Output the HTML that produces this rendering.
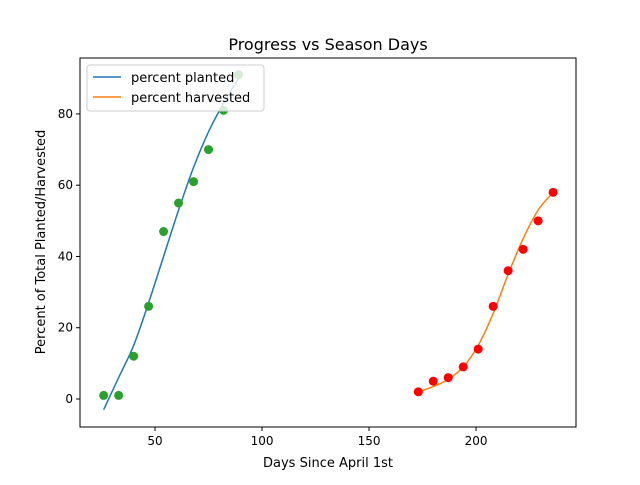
<!DOCTYPE html>
<html><head><meta charset="utf-8"><style>
body{margin:0;background:#fff;font-family:"Liberation Sans","DejaVu Sans",sans-serif}
svg text{font-family:"DejaVu Sans","Liberation Sans",sans-serif;fill:#000}
</style></head><body>
<svg id="chart" width="640" height="480" xmlns="http://www.w3.org/2000/svg">
<rect width="640" height="480" fill="#fff"/>
<g id="marks"></g>
<rect x="80" y="58" width="496" height="369" fill="none" stroke="#000" stroke-width="1"/>
<g id="axes"></g>
<text x="328" y="50" font-size="16" text-anchor="middle">Progress vs Season Days</text>
<text x="328" y="467" font-size="13" text-anchor="middle">Days Since April 1st</text>
<text transform="translate(45,242) rotate(-90)" font-size="13" text-anchor="middle">Percent of Total Planted/Harvested</text>
<g>
<rect x="87" y="65" width="177" height="46" rx="3" fill="#fff" fill-opacity="0.8" stroke="#ccc"/>
<line x1="93" y1="77" x2="121" y2="77" stroke="#1f77b4" stroke-width="1.5"/>
<text x="131" y="82" font-size="13">percent planted</text>
<line x1="93" y1="97" x2="121" y2="97" stroke="#ff7f0e" stroke-width="1.5"/>
<text x="131" y="102" font-size="13">percent harvested</text>
</g>
</svg>
<script>
const plantDays=[26,33,40,47,54,61,68,75,82,89];
const plantVals=[1,1,12,26,47,55,61,70,81,91];
const harvDays=[173,180,187,194,201,208,215,222,229,236];
const harvVals=[2,5,6,9,14,26,36,42,50,58];
const plantFitDays=[26,33,40,47,54,61,68,75,82,89];
const plantFitVals=[-3,6,15,27,40,53,65,75,83,90];
const harvFitDays=[173,180,187,194,201,208,215,222,229,236];
const harvFitVals=[2,3.5,5.5,9,15,24,35,45,53,58];
const xTicks=[50,100,150,200];
const yTicks=[0,20,40,60,80];
const NS="http://www.w3.org/2000/svg";
const X0=80,X1=576,Y0=58,Y1=427,xmin=14.95,xmax=246.7,ymin=-7.86,ymax=95.7;
function sx(v){return X0+(v-xmin)/(xmax-xmin)*(X1-X0);}
function sy(v){return Y1-(v-ymin)/(ymax-ymin)*(Y1-Y0);}
const marks=document.getElementById('marks'),axes=document.getElementById('axes');
function el(t,a,p){const e=document.createElementNS(NS,t);for(const k in a)e.setAttribute(k,a[k]);p.appendChild(e);return e;}
function smooth(xs,ys){const p=xs.map((x,i)=>[sx(x),sy(ys[i])]);let d='M'+p[0][0]+','+p[0][1];
for(let i=0;i<p.length-1;i++){const a=p[i-1]||p[i],b=p[i],c=p[i+1],e=p[i+2]||c;
d+=' C'+(b[0]+(c[0]-a[0])/6)+','+(b[1]+(c[1]-a[1])/6)+' '+(c[0]-(e[0]-b[0])/6)+','+(c[1]-(e[1]-b[1])/6)+' '+c[0]+','+c[1];}return d;}
let l=el('path',{d:smooth(plantFitDays,plantFitVals),fill:'none',stroke:'#1f77b4','stroke-width':1.5},marks);


l=el('path',{d:smooth(harvFitDays,harvFitVals),fill:'none',stroke:'#ff7f0e','stroke-width':1.5},marks);


plantDays.forEach((d,i)=>{const c=el('circle',{cx:sx(d),cy:sy(plantVals[i]),r:4.5,fill:'#2ca02c'},marks);

});
harvDays.forEach((d,i)=>{const c=el('circle',{cx:sx(d),cy:sy(harvVals[i]),r:4.5,fill:'#ff0000'},marks);

});
xTicks.forEach(t=>{el('line',{x1:sx(t),x2:sx(t),y1:Y1,y2:Y1+4,stroke:'#000'},axes);
const tx=el('text',{x:sx(t),y:Y1+18,'font-size':12,'text-anchor':'middle'},axes);tx.textContent=t;

});
yTicks.forEach(t=>{el('line',{x1:X0-4,x2:X0,y1:sy(t),y2:sy(t),stroke:'#000'},axes);
const tx=el('text',{x:X0-7,y:sy(t)+4,'font-size':12,'text-anchor':'end'},axes);tx.textContent=t;

});
</script>
</body></html>
